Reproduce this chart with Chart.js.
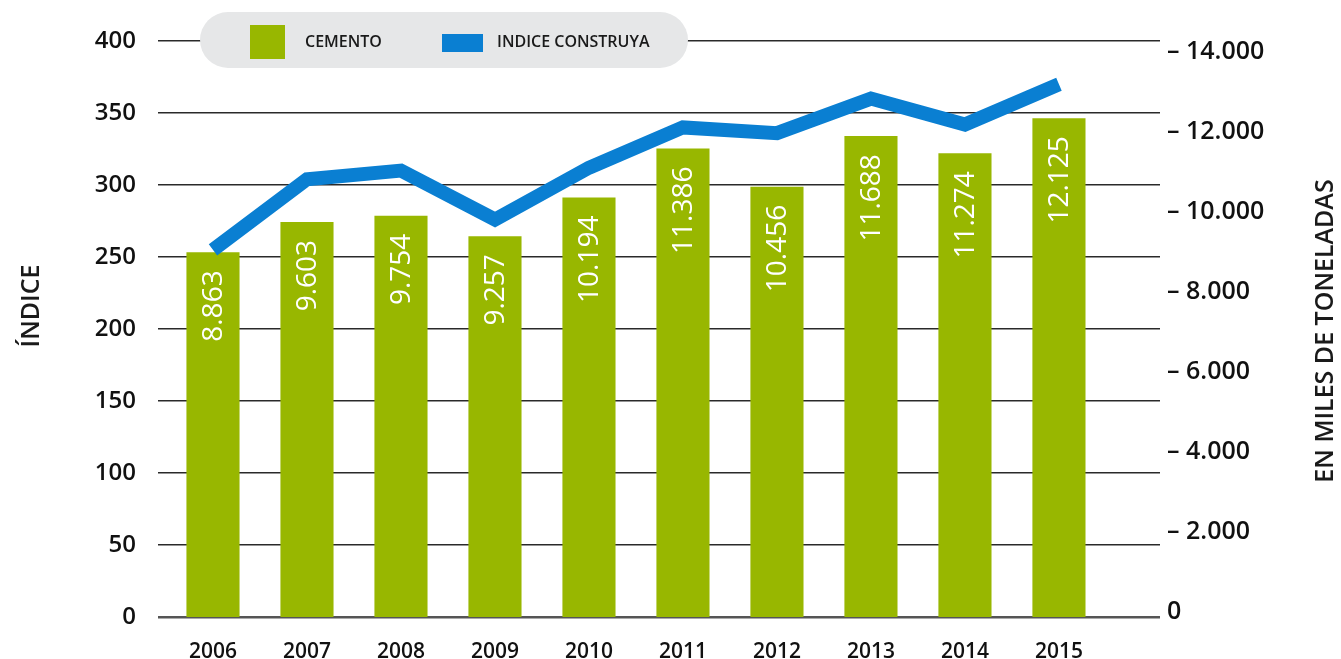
<!DOCTYPE html>
<html>
<head>
<meta charset="utf-8">
<script src="https://cdn.jsdelivr.net/npm/chart.js@4/dist/chart.umd.min.js"></script>
<style>
html,body{margin:0;padding:0;background:#fff;}
#wrap{position:relative;width:1341px;height:659px;}
</style>
</head>
<body>
<div id="wrap"><canvas id="c" width="1341" height="659"></canvas></div>
<script>
const years = ['2006','2007','2008','2009','2010','2011','2012','2013','2014','2015'];
const cemento = [8863, 9603, 9754, 9257, 10194, 11386, 10456, 11688, 11274, 12125];
const construya = [255, 304, 310, 276, 312, 340, 336, 360, 342, 370];
const leftTicks = [0, 50, 100, 150, 200, 250, 300, 350, 400];
const rightTicks = [0, 2000, 4000, 6000, 8000, 10000, 12000, 14000];
const legendLabels = ['CEMENTO', 'INDICE CONSTRUYA'];
const titleLeft = 'ÍNDICE';
const titleRight = 'EN MILES DE TONELADAS';

const GREEN = '#98b700';
const BLUE = '#0a7fd2';
const FONT = "'Open Sans', sans-serif";
Chart.defaults.font.family = FONT;

function fmt(v){ return String(v).replace(/\B(?=(\d{3})+(?!\d))/g, '.'); }

const overlay = {
  id: 'overlay',
  afterDatasetsDraw(chart){
    const ctx = chart.ctx;
    const meta = chart.getDatasetMeta(0);
    ctx.save();
    ctx.fillStyle = '#ffffff';
    ctx.font = '500 28px ' + FONT;
    ctx.textAlign = 'right';
    ctx.textBaseline = 'middle';
    meta.data.forEach((el, i) => {
      ctx.save();
      ctx.translate(el.x, el.y + 18);
      ctx.rotate(-Math.PI/2);
      ctx.fillText(fmt(cemento[i]), 0, 1);
      ctx.restore();
    });
    ctx.restore();
  },
  afterDraw(chart){
    const ctx = chart.ctx;
    ctx.save();
    ctx.fillStyle = '#e6e7e8';
    ctx.beginPath();
    ctx.roundRect(200, 12, 488, 56, 28);
    ctx.fill();
    ctx.fillStyle = GREEN;
    ctx.fillRect(250, 25, 35, 34);
    ctx.fillStyle = BLUE;
    ctx.fillRect(442, 34, 41, 18);
    ctx.fillStyle = '#1a1a1a';
    ctx.font = '600 16px ' + FONT;
    ctx.textAlign = 'left';
    ctx.textBaseline = 'middle';
    ctx.fillText(legendLabels[0], 305, 42);
    ctx.fillText(legendLabels[1], 497, 42);
    ctx.font = '600 25px ' + FONT;
    ctx.textAlign = 'center';
    ctx.save();
    ctx.translate(32, 306);
    ctx.rotate(-Math.PI/2);
    ctx.fillText(titleLeft, 0, 0);
    ctx.restore();
    ctx.save();
    ctx.translate(1326, 331);
    ctx.rotate(-Math.PI/2);
    ctx.fillText(titleRight, 0, 0);
    ctx.restore();
    ctx.restore();
  }
};

new Chart(document.getElementById('c'), {
  data: {
    datasets: [
      {
        type: 'bar',
        label: legendLabels[0],
        data: cemento.map((v, i) => ({x: i, y: v})),
        backgroundColor: GREEN,
        yAxisID: 'yBar',
        xAxisID: 'x',
        barPercentage: 0.565,
        categoryPercentage: 1,
        order: 2
      },
      {
        type: 'line',
        label: legendLabels[1],
        data: construya.map((v, i) => ({x: i, y: v})),
        borderColor: BLUE,
        borderWidth: 14,
        pointRadius: 0,
        tension: 0,
        borderJoinStyle: 'miter',
        borderCapStyle: 'butt',
        yAxisID: 'y',
        xAxisID: 'x',
        clip: false,
        order: 1
      }
    ]
  },
  options: {
    responsive: false,
    animation: false,
    events: [],
    layout: { padding: { top: 41, left: 0, right: 0, bottom: 0 } },
    plugins: { legend: { display: false }, tooltip: { enabled: false } },
    scales: {
      x: {
        type: 'linear',
        offset: false,
        min: -0.585,
        max: 10.075,
        afterBuildTicks: (axis) => { axis.ticks = years.map((_, i) => ({value: i})); },
        afterFit: (s) => { s.height = 42; },
        ticks: {
          callback: (v) => years[v],
          font: { size: 21, weight: '600' },
          color: '#111',
          padding: 14,
          maxRotation: 0,
          autoSkip: false
        },
        grid: { display: false },
        border: { display: false }
      },
      y: {
        position: 'left',
        min: 0,
        max: 400,
        afterBuildTicks: (axis) => { axis.ticks = leftTicks.map(v => ({value: v})); },
        afterFit: (s) => { s.width = 158; },
        ticks: {
          font: { size: 24, weight: '600' },
          color: '#111',
          padding: 22
        },
        grid: {
          drawTicks: false,
          color: (c) => c.tick && c.tick.value === 0 ? '#555' : '#2a2a2a',
          lineWidth: (c) => c.tick && c.tick.value === 0 ? 2.5 : 1.4
        },
        border: { display: false }
      },
      yBar: {
        display: false,
        min: 0,
        max: 14000
      },
      y2: {
        position: 'right',
        min: -125,
        max: 14275,
        afterBuildTicks: (axis) => { axis.ticks = rightTicks.map(v => ({value: v})); },
        afterFit: (s) => { s.width = 181; },
        ticks: {
          callback: (v) => v === 0 ? '0' : '\u2013 ' + fmt(v),
          font: { size: 25, weight: '600' },
          color: '#111',
          padding: 7
        },
        grid: { drawOnChartArea: false, drawTicks: false },
        border: { display: false }
      }
    }
  },
  plugins: [overlay]
});
</script>
</body>
</html>
